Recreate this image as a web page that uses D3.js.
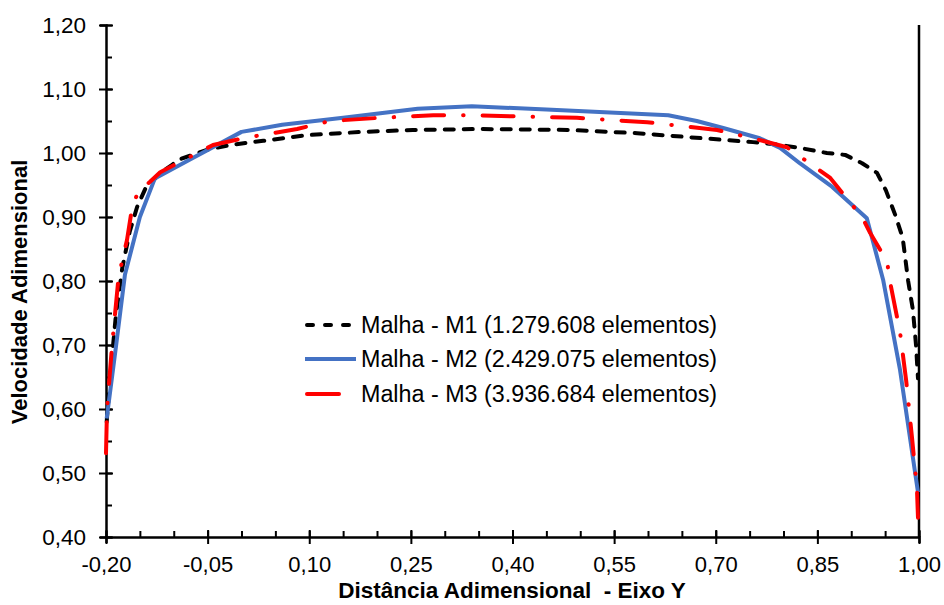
<!DOCTYPE html>
<html><head><meta charset="utf-8">
<script src="https://cdn.jsdelivr.net/npm/d3@7"></script>
<style>body{margin:0;background:#fff}svg text{font-family:"Liberation Sans",Arial,sans-serif}</style>
</head><body>
<svg id="c" width="944" height="605"></svg>
<script>
const seriesNames = ["Malha - M1 (1.279.608 elementos)","Malha - M2 (2.429.075 elementos)","Malha - M3 (3.936.684 elementos)"];
const xTicks = [-0.20,-0.05,0.10,0.25,0.40,0.55,0.70,0.85,1.00];
const yTicks = [0.40,0.50,0.60,0.70,0.80,0.90,1.00,1.10,1.20];
const m1 = [[-0.199,0.58],[-0.193,0.66],[-0.186,0.74],[-0.176,0.82],[-0.165,0.877],[-0.154,0.916],[-0.142,0.944],[-0.132,0.955],[-0.12,0.969],[-0.103,0.981],[-0.094,0.989],[-0.051,1.005],[-0.017,1.0125],[0.032,1.019],[0.097,1.028],[0.179,1.033],[0.253,1.036],[0.352,1.0375],[0.485,1.036],[0.584,1.031],[0.681,1.023],[0.755,1.017],[0.795,1.0125],[0.824,1.008],[0.864,1.0],[0.891,0.997],[0.916,0.984],[0.938,0.969],[0.951,0.942],[0.965,0.903],[0.976,0.867],[0.984,0.80],[0.991,0.755],[0.9956,0.70],[0.9985,0.648]];
const m2 = [[-0.199,0.585],[-0.185,0.70],[-0.172,0.81],[-0.15,0.90],[-0.128,0.96],[-0.076,0.99],[0.0,1.033],[0.06,1.044],[0.15,1.055],[0.26,1.069],[0.34,1.073],[0.45,1.068],[0.63,1.059],[0.672,1.05],[0.711,1.039],[0.765,1.023],[0.795,1.008],[0.824,0.984],[0.872,0.947],[0.923,0.898],[0.947,0.802],[0.972,0.661],[0.9985,0.47]];
const m3 = [[-0.2,0.531],[-0.1985,0.6],[-0.191,0.70],[-0.182,0.80],[-0.176,0.833],[-0.169,0.864],[-0.162,0.911],[-0.153,0.939],[-0.135,0.955],[-0.12,0.97],[-0.091,0.986],[-0.076,0.994],[-0.042,1.0125],[0.002,1.023],[0.082,1.0375],[0.131,1.05],[0.204,1.055],[0.283,1.059],[0.337,1.059],[0.495,1.055],[0.599,1.048],[0.702,1.036],[0.755,1.023],[0.805,1.009],[0.821,0.997],[0.844,0.98],[0.869,0.961],[0.898,0.923],[0.916,0.90],[0.928,0.875],[0.953,0.83],[0.957,0.80],[0.972,0.72],[0.981,0.645],[0.9897,0.555],[0.997,0.475],[0.9985,0.43]];
const colors = ["#000000","#4472C4","#FF0000"];

const svg = d3.select("#c");
const x = d3.scaleLinear().domain([-0.2,1.0]).range([106,919]);
const y = d3.scaleLinear().domain([0.4,1.2]).range([537,25]);
const fmt = v => d3.format(".2f")(v).replace(".",",").replace("\u2212","-");
const minorX = d3.range(-0.2,1.0001,0.05).map(v=>+v.toFixed(2));
const minorY = d3.range(0.4,1.2001,0.05).map(v=>+v.toFixed(2));

// minor ticks
svg.append("g").attr("transform","translate(0,537)")
  .call(d3.axisBottom(x).tickValues(minorX).tickSize(-6).tickFormat(""))
  .call(g=>g.select(".domain").remove())
  .call(g=>g.selectAll("line").attr("stroke","#000").attr("stroke-width",2));
svg.append("g").attr("transform","translate(106,0)")
  .call(d3.axisLeft(y).tickValues(minorY).tickSize(-6).tickFormat(""))
  .call(g=>g.select(".domain").remove())
  .call(g=>g.selectAll("line").attr("stroke","#000").attr("stroke-width",2));

// major axes
const gx = svg.append("g").attr("transform","translate(0,537)")
  .call(d3.axisBottom(x).tickValues(xTicks).tickSizeOuter(0).tickSize(6).tickPadding(13).tickFormat(fmt));
gx.select(".domain").attr("stroke","#000").attr("stroke-width",2.5);
gx.selectAll(".tick line").attr("y1",-7).attr("y2",7).attr("stroke","#000").attr("stroke-width",2);
gx.selectAll(".tick text").attr("font-size",22).attr("fill","#000").attr("dy","0.71em");

const gy = svg.append("g").attr("transform","translate(106,0)")
  .call(d3.axisLeft(y).tickValues(yTicks).tickSizeOuter(0).tickSize(6).tickPadding(14).tickFormat(fmt));
gy.select(".domain").attr("stroke","#000").attr("stroke-width",2.5);
gy.selectAll(".tick line").attr("x1",-7).attr("x2",7).attr("stroke","#000").attr("stroke-width",2);
gy.selectAll(".tick text").attr("font-size",22.5).attr("fill","#000");

// right border
svg.append("line").attr("x1",x(1.0)).attr("x2",x(1.0)).attr("y1",y(1.2)).attr("y2",y(0.4))
  .attr("stroke","#000").attr("stroke-width",2.5);

// lines
const line = d3.line().x(d=>x(d[0])).y(d=>y(d[1]));
const styles = [
  {dash:"9,10"},
  {dash:null},
  {dash:"31,19,0.5,19"}
];
[m1,m2,m3].forEach((s,i)=>{
  svg.append("path").datum(s).attr("d",line).attr("fill","none")
    .attr("stroke",colors[i]).attr("stroke-width",4)
    .attr("stroke-linecap",styles[i].dash?"round":"butt").attr("stroke-linejoin","round")
    .attr("stroke-dasharray",styles[i].dash);
});

// legend
const legY = [325,359,394];
const lg = svg.append("g");
seriesNames.forEach((n,i)=>{
  const yy = legY[i];
  if(i===0){
    lg.append("line").attr("x1",307).attr("x2",355).attr("y1",yy).attr("y2",yy)
      .attr("stroke",colors[0]).attr("stroke-width",4).attr("stroke-linecap","round").attr("stroke-dasharray","6,12");
  } else if(i===1){
    lg.append("line").attr("x1",305).attr("x2",356).attr("y1",yy).attr("y2",yy)
      .attr("stroke",colors[1]).attr("stroke-width",4);
  } else {
    lg.append("line").attr("x1",307).attr("x2",339).attr("y1",yy).attr("y2",yy)
      .attr("stroke",colors[2]).attr("stroke-width",4).attr("stroke-linecap","round");
  }
  lg.append("text").attr("x",361).attr("y",yy).attr("dy","0.36em").attr("font-size",23.3).attr("fill","#000").text(n);
});

// axis titles
svg.append("text").attr("x",512).attr("y",598).attr("text-anchor","middle").attr("font-size",22.5).attr("font-weight","bold").attr("fill","#000")
  .style("white-space","pre").text("Distância Adimensional  - Eixo Y");
svg.append("text").attr("transform","translate(27,292) rotate(-90)").attr("text-anchor","middle").attr("font-size",22).attr("font-weight","bold").attr("fill","#000")
  .text("Velocidade Adimensional");
</script>
</body></html>
